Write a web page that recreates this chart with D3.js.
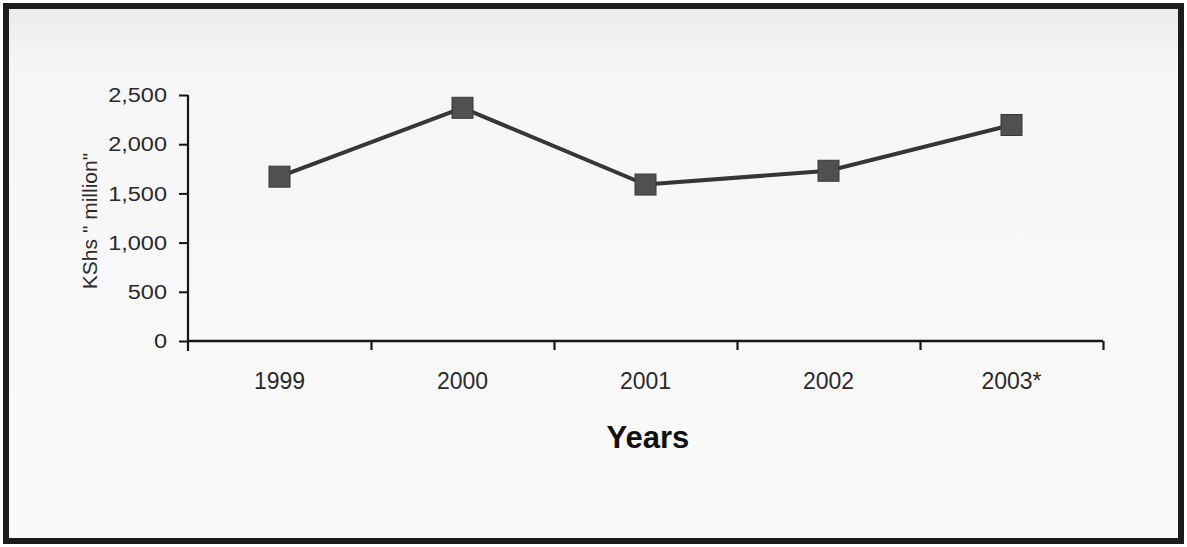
<!DOCTYPE html>
<html>
<head>
<meta charset="utf-8">
<script src="https://cdn.jsdelivr.net/npm/d3@7"></script>
<style>
  html, body { margin: 0; padding: 0; background: #ffffff; }
  svg { display: block; }
</style>
</head>
<body>
<svg id="chart" width="1187" height="547"></svg>
<script>
// Annual values, KShs million
const years = ["1999", "2000", "2001", "2002", "2003*"];
const values = [1670, 2370, 1590, 1730, 2195];
const yTicks = [0, 500, 1000, 1500, 2000, 2500];
const yTitle = "KShs \" million\"";
const xTitle = "Years";

const svg = d3.select("#chart");

// framed panel
const grad = svg.append("defs").append("linearGradient")
  .attr("id", "panel").attr("x1", 0).attr("y1", 0).attr("x2", 0).attr("y2", 1);
grad.append("stop").attr("offset", 0).attr("stop-color", "#ebebeb");
grad.append("stop").attr("offset", 0.12).attr("stop-color", "#f6f6f6");
grad.append("stop").attr("offset", 1).attr("stop-color", "#fafafa");

svg.append("rect")
  .attr("x", 6).attr("y", 6).attr("width", 1175).attr("height", 535)
  .attr("fill", "url(#panel)")
  .attr("stroke", "#1c1c1c").attr("stroke-width", 6);

const x0 = 188, x1 = 1103, yBase = 341, yTop = 95;

const x = d3.scaleBand().domain(years).range([x0, x1]);
const xEdge = d3.scaleLinear().domain([0, years.length]).range([x0, x1]);
const y = d3.scaleLinear().domain([0, 2500]).range([yBase, yTop]);

const font = "'Liberation Sans', Arial, sans-serif";

// y axis
const yAxis = svg.append("g")
  .attr("transform", `translate(${x0},0)`)
  .call(d3.axisLeft(y).tickValues(yTicks).tickFormat(d3.format(",")).tickSize(9).tickPadding(11));
yAxis.select(".domain").attr("stroke", "#151515").attr("stroke-width", 2.2).attr("d", `M0,${yTop}H-0V${yBase + 10}`);
yAxis.selectAll(".tick line").attr("stroke", "#151515").attr("stroke-width", 2);
yAxis.selectAll(".tick text")
  .attr("font-family", font).attr("font-size", 21).attr("fill", "#2a2a2a")
  .attr("transform", "scale(1.12,1)")
  .attr("x", -21 / 1.12);

// x axis: tick marks at category edges
const xTickAxis = svg.append("g")
  .attr("transform", `translate(0,${yBase})`)
  .call(d3.axisBottom(xEdge).tickValues(d3.range(1, years.length + 1)).tickFormat("").tickSize(9).tickSizeOuter(0));
xTickAxis.select(".domain").attr("stroke", "#151515").attr("stroke-width", 2.6).attr("d", `M${x0},0H${x1}`);
xTickAxis.selectAll(".tick line").attr("stroke", "#151515").attr("stroke-width", 2.2);

// x axis: category labels centred in each band
const xLabelAxis = svg.append("g")
  .attr("transform", `translate(0,${yBase})`)
  .call(d3.axisBottom(x).tickSize(0).tickPadding(32));
xLabelAxis.select(".domain").remove();
xLabelAxis.selectAll(".tick text")
  .attr("font-family", font).attr("font-size", 23).attr("fill", "#2a2a2a");

// axis titles
svg.append("text")
  .attr("transform", `translate(97,221) rotate(-90)`)
  .attr("text-anchor", "middle")
  .attr("font-family", font).attr("font-size", 21).attr("fill", "#2a2a2a")
  .text(yTitle);

svg.append("text")
  .attr("x", 648).attr("y", 448)
  .attr("text-anchor", "middle")
  .attr("font-family", font).attr("font-weight", "bold").attr("font-size", 31).attr("fill", "#111")
  .text(xTitle);

// series line and markers
const pts = years.map((yr, i) => ({ yr, v: values[i] }));
const line = d3.line().x(d => x(d.yr) + x.bandwidth() / 2).y(d => y(d.v));

svg.append("path")
  .datum(pts)
  .attr("d", line)
  .attr("fill", "none")
  .attr("stroke", "#363636")
  .attr("stroke-width", 4);

const s = 21;
svg.selectAll("rect.mark")
  .data(pts)
  .join("rect")
  .attr("class", "mark")
  .attr("x", d => x(d.yr) + x.bandwidth() / 2 - s / 2)
  .attr("y", d => y(d.v) - s / 2)
  .attr("width", s).attr("height", s)
  .attr("fill", "#505050")
  .attr("stroke", "#383838").attr("stroke-width", 1);
</script>
</body>
</html>
